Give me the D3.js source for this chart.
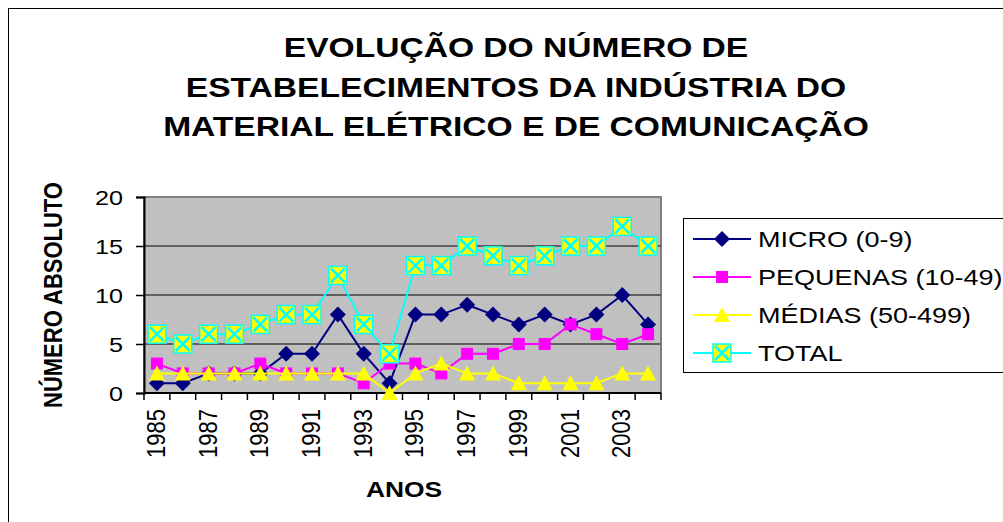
<!DOCTYPE html>
<html>
<head>
<meta charset="utf-8">
<script src="https://cdn.jsdelivr.net/npm/d3@7"></script>
<style>
  body { margin: 0; background: #fff; }
  svg { font-family: "Liberation Sans", Arial, sans-serif; }
</style>
</head>
<body>
<div id="chart"></div>
<script>
  const years = d3.range(1985, 2005).map(String);
  const micro = [1, 1, 2, 2, 2, 4, 4, 8, 4, 1, 8, 8, 9, 8, 7, 8, 7, 8, 10, 7];
  const pequenas = [3, 2, 2, 2, 3, 2, 2, 2, 1, 3, 3, 2, 4, 4, 5, 5, 7, 6, 5, 6];
  const medias = [2, 2, 2, 2, 2, 2, 2, 2, 2, 0, 2, 3, 2, 2, 1, 1, 1, 1, 2, 2];
  const total = [6, 5, 6, 6, 7, 8, 8, 12, 7, 4, 13, 13, 15, 14, 13, 14, 15, 15, 17, 15];
  const yTicks = [0, 5, 10, 15, 20];
  const titleLines = ["EVOLUÇÃO DO NÚMERO DE", "ESTABELECIMENTOS DA INDÚSTRIA DO", "MATERIAL ELÉTRICO E DE COMUNICAÇÃO"];

  const series = [
    {name: "MICRO (0-9)", values: micro, color: "#000080", marker: "diamond"},
    {name: "PEQUENAS (10-49)", values: pequenas, color: "#FF00FF", marker: "square"},
    {name: "MÉDIAS (50-499)", values: medias, color: "#FFFF00", marker: "triangle"},
    {name: "TOTAL", values: total, color: "#00FFFF", marker: "xbox"}
  ];

  const W = 1003, H = 522;
  const SX = 1.2; // the original text is drawn a bit wide
  const plot = {left: 144, right: 661, top: 197, bottom: 393};

  const svg = d3.select("#chart").append("svg")
    .attr("width", W).attr("height", H);

  // text placed at (x,y), stretched horizontally, optionally rotated
  function stext(g, x, y, rot) {
    return g.append("text")
      .attr("transform", "translate(" + x + "," + y + ") scale(" + SX + ",1)" + (rot ? " rotate(-90)" : ""));
  }

  // outer chart border
  svg.append("rect").attr("x", 8.5).attr("y", 8.5)
    .attr("width", W + 20).attr("height", H + 20)
    .attr("fill", "none").attr("stroke", "#000").attr("stroke-width", 1);

  // title
  titleLines.forEach((t, i) => {
    stext(svg, 516, 57 + i * 39.5)
      .attr("text-anchor", "middle")
      .style("font-size", "28px").style("font-weight", "bold")
      .text(t);
  });

  const x = d3.scaleBand().domain(years).range([plot.left, plot.right]);
  const y = d3.scaleLinear().domain([0, 20]).range([plot.bottom, plot.top]);

  // plot background
  svg.append("rect")
    .attr("x", plot.left).attr("y", plot.top)
    .attr("width", plot.right - plot.left).attr("height", plot.bottom - plot.top)
    .attr("fill", "#C0C0C0").attr("stroke", "#808080").attr("stroke-width", 2);

  // gridlines
  svg.append("g").selectAll("line").data(yTicks.filter(d => d > 0 && d < 20)).enter().append("line")
    .attr("x1", plot.left).attr("x2", plot.right)
    .attr("y1", d => y(d)).attr("y2", d => y(d))
    .attr("stroke", "#606060").attr("stroke-width", 2);

  // y axis
  const yAxis = svg.append("g")
    .attr("transform", "translate(" + plot.left + ",0)")
    .call(d3.axisLeft(y).tickValues(yTicks).tickSize(8).tickFormat(""));
  yAxis.select(".domain").attr("stroke", "#000").attr("stroke-width", 2);
  yAxis.selectAll(".tick line").attr("stroke", "#000").attr("stroke-width", 1.5);
  yTicks.forEach(v => {
    stext(svg, 123, y(v) + 8)
      .attr("text-anchor", "end")
      .style("font-size", "21px")
      .text(v);
  });

  // x axis: ticks at category boundaries
  const xg = svg.append("g").attr("transform", "translate(0," + plot.bottom + ")");
  xg.append("line").attr("x1", plot.left).attr("x2", plot.right)
    .attr("stroke", "#000").attr("stroke-width", 2);
  const bounds = years.map(d => x(d)).concat([x(years[years.length - 1]) + x.bandwidth()]);
  xg.selectAll("line.tk").data(bounds).enter().append("line").attr("class", "tk")
    .attr("x1", d => d).attr("x2", d => d).attr("y1", 0).attr("y2", 7)
    .attr("stroke", "#000").attr("stroke-width", 1.5);
  years.filter((d, i) => i % 2 === 0).forEach(d => {
    stext(svg, x(d) + x.bandwidth() / 2 + 8, 409, true)
      .attr("text-anchor", "end")
      .style("font-size", "22px")
      .text(d);
  });

  // axis titles
  stext(svg, 62, 295, true)
    .attr("text-anchor", "middle")
    .style("font-size", "22px").style("font-weight", "bold")
    .text("NÚMERO ABSOLUTO");
  stext(svg, 404, 497)
    .attr("text-anchor", "middle")
    .style("font-size", "22px").style("font-weight", "bold")
    .text("ANOS");

  function drawMarker(g, type) {
    if (type === "diamond") {
      g.append("path").attr("d", "M0,-8L8,0L0,8L-8,0Z").attr("fill", "#000080");
    } else if (type === "square") {
      g.append("rect").attr("x", -6).attr("y", -6).attr("width", 12).attr("height", 12).attr("fill", "#FF00FF");
    } else if (type === "triangle") {
      g.append("path").attr("d", "M0,-8L8,7L-8,7Z").attr("fill", "#FFFF00");
    } else {
      g.append("rect").attr("x", -9).attr("y", -9).attr("width", 18).attr("height", 18)
        .attr("fill", "#FFFF00").attr("stroke", "#00FFFF").attr("stroke-width", 1.5);
      g.append("path").attr("d", "M-7,-7L7,7M7,-7L-7,7").attr("stroke", "#00FFFF").attr("stroke-width", 2.5);
    }
  }

  const line = d3.line()
    .x((d, i) => x(years[i]) + x.bandwidth() / 2)
    .y(d => y(d));

  series.forEach(s => {
    const g = svg.append("g");
    g.append("path").attr("d", line(s.values))
      .attr("fill", "none").attr("stroke", s.color).attr("stroke-width", 2);
    s.values.forEach((v, i) => {
      const m = g.append("g").attr("transform", "translate(" + (x(years[i]) + x.bandwidth() / 2) + "," + y(v) + ")");
      drawMarker(m, s.marker);
    });
  });

  // legend
  const lg = svg.append("g");
  lg.append("rect").attr("x", 683.5).attr("y", 218.5).attr("width", 340).attr("height", 154)
    .attr("fill", "#fff").attr("stroke", "#000").attr("stroke-width", 1);
  series.forEach((s, i) => {
    const cy = 239 + i * 38;
    lg.append("line").attr("x1", 693).attr("x2", 751).attr("y1", cy).attr("y2", cy)
      .attr("stroke", s.color).attr("stroke-width", 2);
    const m = lg.append("g").attr("transform", "translate(722," + cy + ")");
    drawMarker(m, s.marker);
    stext(lg, 758, cy + 8)
      .style("font-size", "22.5px").text(s.name);
  });
</script>
</body>
</html>
